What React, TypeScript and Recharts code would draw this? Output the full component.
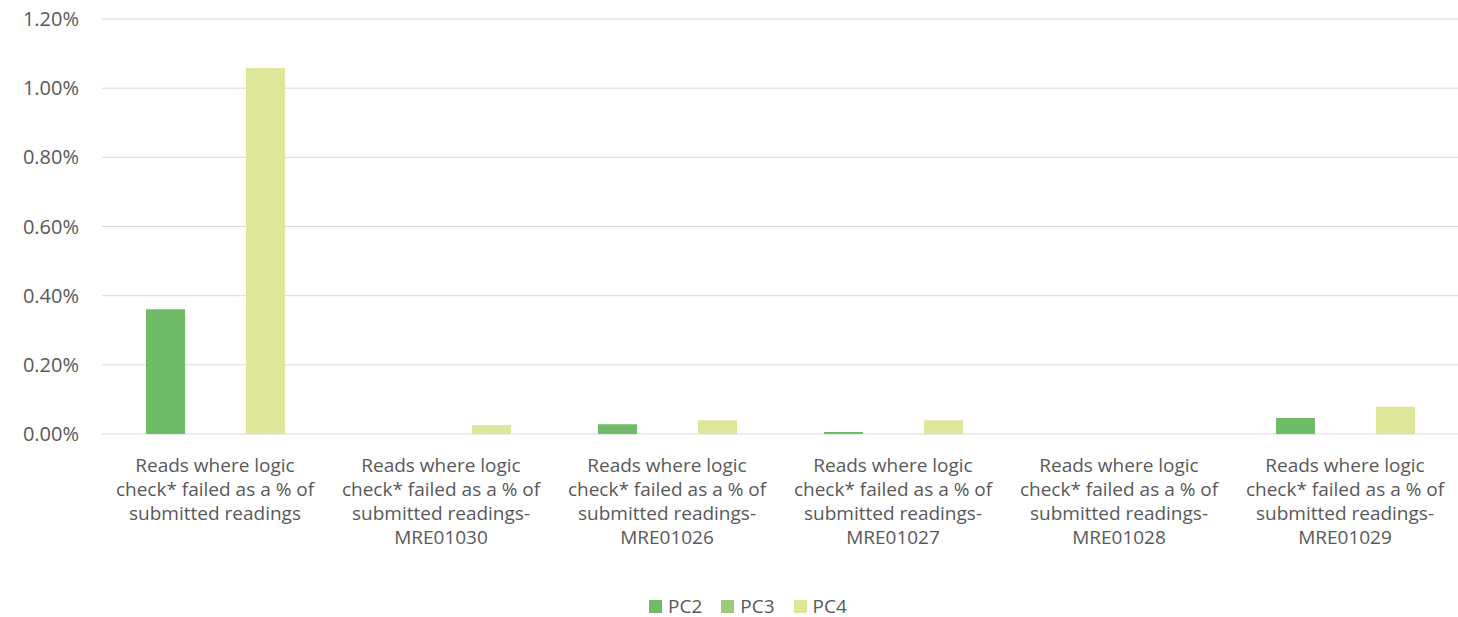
import { BarChart, Bar, XAxis, YAxis, CartesianGrid } from 'recharts';

const categories = [
  'Reads where logic\ncheck* failed as a % of\nsubmitted readings',
  'Reads where logic\ncheck* failed as a % of\nsubmitted readings-\nMRE01030',
  'Reads where logic\ncheck* failed as a % of\nsubmitted readings-\nMRE01026',
  'Reads where logic\ncheck* failed as a % of\nsubmitted readings-\nMRE01027',
  'Reads where logic\ncheck* failed as a % of\nsubmitted readings-\nMRE01028',
  'Reads where logic\ncheck* failed as a % of\nsubmitted readings-\nMRE01029',
];

const pc2 = [0.361, 0, 0.028, 0.006, 0, 0.046];
const pc3 = [0, 0, 0, 0, 0, 0];
const pc4 = [1.058, 0.026, 0.04, 0.04, 0, 0.079];

const yTicks = [0, 0.2, 0.4, 0.6, 0.8, 1.0, 1.2];

const series = [
  { key: 'PC2', color: '#70BB67' },
  { key: 'PC3', color: '#9CCA76' },
  { key: 'PC4', color: '#DEE699' },
];

const data = categories.map((name, i) => ({
  name,
  PC2: pc2[i],
  PC3: pc3[i],
  PC4: pc4[i],
}));

const FONT = '"Open Sans", sans-serif';
const TEXT = '#595959';

// each wrapped line is its own text so the lines stay apart
const CategoryTick = ({ x, y, payload }: any) => {
  const lines = String(payload.value).split('\n');
  return (
    <g>
      {lines.map((l, i) => (
        <text
          key={i}
          x={x}
          y={y + 38 + i * 24}
          textAnchor="middle"
          fill={TEXT}
          fontSize={19}
          fontFamily={FONT}
        >
          {l}
        </text>
      ))}
    </g>
  );
};

const Legend = () => (
  <div
    style={{
      position: 'absolute',
      left: 649,
      top: 593,
      display: 'flex',
      alignItems: 'center',
      fontFamily: FONT,
      fontSize: 19,
      color: TEXT,
    }}
  >
    {series.map((s) => (
      <div key={s.key} style={{ display: 'flex', alignItems: 'center', marginRight: 19 }}>
        <span style={{ width: 13, height: 13, background: s.color, display: 'inline-block', marginRight: 6 }} />
        <span>{s.key}</span>
      </div>
    ))}
  </div>
);

export default function App() {
  return (
    <div style={{ position: 'absolute', left: 0, top: 0, width: 1458, height: 617, background: '#fff' }}>
      <BarChart
        width={1458}
        height={617}
        data={data}
        margin={{ top: 19, right: 0, left: 0, bottom: 43 }}
        barSize={39}
        barGap={11}
      >
        <CartesianGrid vertical={false} stroke="#D9D9D9" strokeWidth={1} />
        <XAxis
          dataKey="name"
          axisLine={false}
          tickLine={false}
          tickSize={0}
          tickMargin={0}
          interval={0}
          height={140}
          tick={<CategoryTick />}
        />
        <YAxis
          width={102}
          domain={[0, 1.2]}
          ticks={yTicks}
          axisLine={false}
          tickLine={false}
          tickSize={0}
          tickMargin={23}
          tickFormatter={(v: number) => `${v.toFixed(2)}%`}
          tick={{ fill: TEXT, fontSize: 20, fontFamily: FONT }}
        />
        {series.map((s) => (
          <Bar key={s.key} dataKey={s.key} fill={s.color} isAnimationActive={false} />
        ))}
      </BarChart>
      <Legend />
    </div>
  );
}
